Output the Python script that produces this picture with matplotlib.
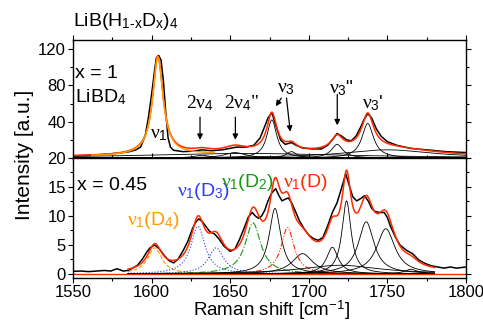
import numpy as np
import matplotlib.pyplot as plt

plt.rcParams['font.family'] = ['Liberation Sans', 'DejaVu Sans']
plt.rcParams['mathtext.fontset'] = 'custom'
plt.rcParams['mathtext.rm'] = 'Liberation Sans'
plt.rcParams['mathtext.it'] = 'Liberation Serif'
plt.rcParams['mathtext.sf'] = 'Liberation Sans'

RED = '#ff2a00'
ORANGE = '#ff9a00'
BLUE = '#2b3bff'
GREEN = '#139a13'

top_x = [1550, 1560, 1570, 1580, 1586, 1590, 1593, 1596, 1598, 1600, 1602, 1603, 1604.5,
         1606, 1607.5, 1609, 1610.5, 1612, 1614, 1620, 1626, 1632, 1638, 1645, 1654, 1660,
         1665, 1669, 1672, 1674, 1676.5, 1679, 1682, 1685, 1689, 1692, 1696, 1702, 1708,
         1712, 1715, 1718, 1721, 1724, 1727, 1730, 1733, 1735, 1737.5, 1740, 1743, 1746,
         1750, 1756, 1765, 1775, 1787, 1800]
top_y = [2.5, 3, 4, 5.5, 7, 9, 12, 25, 45, 70, 98, 110, 113,
         108, 85, 50, 22, 12, 8.5, 7, 7.5, 9, 8, 9, 12, 12,
         14, 22, 35, 44, 50, 36, 20, 15, 17, 14, 11, 10, 10,
         14, 20, 27, 24, 20, 19, 24, 34, 42, 49, 44, 32, 24,
         18, 14, 10.5, 9, 7, 6]

# fitted Lorentzian components (centre, height, hwhm)
top_c = [1604, 1632, 1653, 1676.5, 1689, 1718, 1737.5, 1750, 1660]
top_h = [108, 3, 6, 42, 7, 15, 38, 9, 5]
top_w = [4.0, 6, 8, 3.8, 4, 4.5, 4.5, 35, 80]

# ---- x = 0.45: measured spectrum
bot_x = [1550, 1555, 1560, 1565, 1570, 1574, 1578, 1582, 1585, 1588, 1591, 1594, 1597, 1599,
         1602, 1605, 1608, 1611, 1614, 1617, 1620, 1623, 1626, 1628, 1630, 1632, 1634, 1637,
         1640, 1643, 1646, 1650, 1653, 1656, 1659, 1661.5, 1664, 1666, 1668, 1670, 1672,
         1674, 1676.5, 1679, 1681, 1683, 1685, 1687, 1689, 1691.5, 1694, 1697, 1700, 1703,
         1706, 1709, 1712, 1715, 1718, 1720.5, 1723.5, 1726, 1728, 1730.5, 1733, 1735.5,
         1738, 1740, 1742, 1745, 1748, 1750, 1752, 1755, 1758, 1762, 1766, 1770, 1774,
         1778, 1782, 1786, 1790, 1794, 1800]
bot_y = [0.45, 0.5, 0.4, 0.5, 0.6, 0.5, 0.9, 0.5, 0.6, 1.0, 1.5, 2.5, 3.8, 4.5,
         5.0, 4.3, 3.2, 2.3, 1.9, 2.6, 4.0, 5.6, 7.8, 8.9, 9.5, 9.1, 8.4, 7.3,
         6.9, 6.0, 4.8, 3.9, 4.3, 6.0, 8.0, 9.8, 10.6, 10.0, 9.6, 10.0, 11.0,
         12.6, 14.0, 14.7, 13.5, 12.6, 12.9, 13.1, 12.3, 10.8, 9.2, 7.8, 6.7, 6.1,
         5.8, 6.3, 8.3, 10.6, 12.3, 14.5, 17.3, 15.0, 13.3, 12.6, 13.0, 13.5,
         12.5, 11.3, 10.8, 10.6, 10.6, 9.7, 8.2, 6.4, 5.0, 4.1, 3.5, 2.4, 1.8,
         1.4, 1.2, 1.0, 1.2, 1.0, 1.2]

bot_c = [1602, 1629.5, 1641, 1664.5, 1678.5, 1686.5, 1696, 1715, 1724, 1736.5, 1749, 1765, 1720]
bot_h = [4.5, 8.2, 4.5, 8.8, 11.3, 8.0, 3.5, 4.6, 12.6, 9.0, 7.8, 0.8, 1.5]
bot_w = [5.5, 5.5, 6, 6, 4.5, 5, 8, 4.5, 3.5, 6, 7, 5, 30]
bot_col = [ORANGE, BLUE, BLUE, GREEN, 'k', RED, 'k', 'k', 'k', 'k', 'k', 'k', 'k']
bot_ls = ['--', ':', ':', '-.', '-', (0, (5, 1.5, 1, 1.5, 1, 1.5)), '-', '-', '-', '-', '-', '-', '-']


def lor(x, c, h, w):
    return h / (1 + ((x - c) / w) ** 2)


fig = plt.figure(figsize=(4.83, 3.21), dpi=100)
ax1 = fig.add_axes([73 / 483, 1 - 158 / 321, 393 / 483, 118 / 321])
ax2 = fig.add_axes([73 / 483, 1 - 278 / 321, 393 / 483, 120 / 321])

# top panel
xt = np.linspace(1550, 1800, 1000)
for i in range(1, len(top_c)):
    ax1.plot(xt, lor(xt, top_c[i], top_h[i], top_w[i]), color='k', lw=0.6)
ax1.plot(top_x, top_y, color='k', lw=1.1)
fit_top = sum(lor(xt, c, h, w) for c, h, w in zip(top_c, top_h, top_w))
ax1.plot(xt, fit_top, color=RED, lw=1.1)
m = (xt > 1562) & (xt < 1640)
ax1.plot(xt[m], lor(xt[m], top_c[0], top_h[0], top_w[0]) + lor(xt[m], top_c[-1], top_h[-1], top_w[-1]),
         color=ORANGE, lw=1.1)

# bottom panel
xb = np.linspace(1585, 1780, 1000)
for c, h, w, col, ls in zip(bot_c, bot_h, bot_w, bot_col, bot_ls):
    ax2.plot(xb, lor(xb, c, h, w), color=col, ls=ls, lw=0.8 if col != 'k' else 0.6)
ax2.plot(bot_x, bot_y, color='k', lw=1.1)
ax2.plot([1550, 1800], [0, 0], color=RED, lw=1.0)
fit_bot = sum(lor(xb, c, h, w) for c, h, w in zip(bot_c, bot_h, bot_w))
ax2.plot(xb, fit_bot, color=RED, lw=1.1)

for ax in (ax1, ax2):
    ax.set_xlim(1550, 1800)
    ax.set_xticks(np.arange(1550, 1801, 50))
    ax.set_xticks(np.arange(1550, 1801, 25), minor=True)
    ax.tick_params(which='both', direction='out', top=True, right=True, labelsize=12,
                   width=0.8, pad=1.5)
    ax.tick_params(which='major', length=3.5)
    ax.tick_params(which='minor', length=2.5)
    for s in ax.spines.values():
        s.set_linewidth(1.0)

ax1.set_ylim(0, 130)
ax1.set_yticks([40, 80, 120])
ax1.set_yticks(np.arange(0, 130, 20), minor=True)
ax1.tick_params(labelbottom=False)
ax2.set_ylim(-0.7, 20)
ax2.set_yticks([0, 5, 10, 15, 20])
ax2.set_yticks(np.arange(0, 20.1, 2.5), minor=True)

# annotations, top panel
ax1.text(1551.5, 93, 'x = 1', fontsize=14, va='center')
ax1.text(1551.5, 67, r'LiBD$_4$', fontsize=14, va='center')
ax1.text(1604.7, 26, r'$\nu_1$', fontsize=14, ha='center', va='center')
ax1.text(1630.5, 60, r'2$\nu_4$', fontsize=14, ha='center', va='center', family='Liberation Serif')
ax1.text(1657, 60, r'2$\nu_4$"', fontsize=14, ha='center', va='center', family='Liberation Serif')
ax1.text(1685.5, 77, r'$\nu_3$', fontsize=14, ha='center', va='center')
ax1.text(1721, 77, r'$\nu_3$"', fontsize=14, ha='center', va='center')
ax1.text(1740.5, 60, r"$\nu_3$'", fontsize=14, ha='center', va='center')
arr = dict(arrowstyle='-|>', color='k', lw=0.9, mutation_scale=8, shrinkA=0, shrinkB=0)
ax1.annotate('', xy=(1630.8, 20), xytext=(1630.8, 45), arrowprops=arr)
ax1.annotate('', xy=(1653.3, 20), xytext=(1653.3, 45), arrowprops=arr)
ax1.annotate('', xy=(1679, 57), xytext=(1682.5, 66), arrowprops=arr)
ax1.annotate('', xy=(1688.2, 29), xytext=(1685.8, 66), arrowprops=arr)
ax1.annotate('', xy=(1718.1, 36), xytext=(1718.1, 70), arrowprops=arr)

# annotations, bottom panel
ax2.text(1552.3, 15.3, 'x = 0.45', fontsize=14, va='center')
ax2.text(1601, 9.3, r'$\nu_1$(D$_4$)', fontsize=14, ha='center', va='center', color=ORANGE)
ax2.text(1633, 14.2, r'$\nu_1$(D$_3$)', fontsize=14, ha='center', va='center', color=BLUE)
ax2.text(1660.8, 15.8, r'$\nu_1$(D$_2$)', fontsize=14, ha='center', va='center', color=GREEN)
ax2.text(1698, 15.8, r'$\nu_1$(D)', fontsize=14, ha='center', va='center', color=RED)

fig.text(72.7 / 483, 1 - 22 / 321, r'LiB(H$_{\mathrm{1\text{-}x}}$D$_\mathrm{x}$)$_\mathrm{4}$',
         fontsize=14, va='center')
fig.text(24 / 483, 1 - 155 / 321, 'Intensity [a.u.]', rotation=90, fontsize=15,
         ha='center', va='center')
fig.text(271 / 483, 1 - 316.5 / 321, r'Raman shift [cm$^{\mathrm{-1}}$]', fontsize=13.5,
         ha='center', va='baseline')

fig.savefig('out.png', dpi=100)
